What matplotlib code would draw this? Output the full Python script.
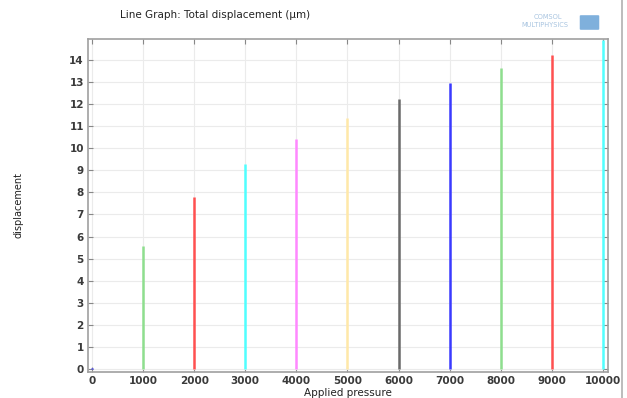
import numpy as np
import matplotlib.pyplot as plt
from matplotlib.patches import FancyBboxPatch
from matplotlib.lines import Line2D

# Applied pressure steps and the total displacement at each step (um)
pressure = [0, 1000, 2000, 3000, 4000, 5000, 6000, 7000, 8000, 9000, 10000]
displacement = [0.06, 5.59, 7.80, 9.29, 10.43, 11.37, 12.22, 12.94, 13.62, 14.24, 14.90]
line_colors = ['#3a3aff', '#8ede8e', '#ff5050', '#50ffff', '#ff88ff', '#ffe8a8',
               '#6a6a6a', '#3a3aff', '#8ede8e', '#ff5050', '#50ffff']

x_ticks = list(range(0, 10001, 1000))
y_ticks = list(range(0, 15))

fig = plt.figure(figsize=(6.27, 3.98), dpi=100)
ax = fig.add_axes([88 / 627, 1 - 372 / 398, (608 - 88) / 627, (372 - 39) / 398])

# one vertical line per load step, cycling colours like the solver's plot
for p, d, c in zip(pressure, displacement, line_colors):
    ax.vlines(p, 0, d, colors=c, linewidth=1.8, zorder=3)

ax.set_xlim(-78, 10098)
ax.set_ylim(-0.14, 14.95)
ax.set_xticks(x_ticks)
ax.set_yticks(y_ticks)
ax.grid(True, color='#ebebeb', linewidth=0.8, zorder=0)
ax.tick_params(direction='in', length=3.5, width=0.8, color='#888888',
               top=True, right=True, labelsize=7.5, labelcolor='#3a3a3a', pad=3)
for lab in ax.get_xticklabels() + ax.get_yticklabels():
    lab.set_fontweight('bold')
for s in ax.spines.values():
    s.set_color('#a0a0a0')
    s.set_linewidth(1.2)

ax.set_xlabel('Applied pressure', fontsize=7.5, labelpad=1, color='#222222')
fig.text(18 / 627, 1 - 205 / 398, 'displacement', rotation=90, fontsize=7,
         ha='center', va='center', color='#222222')

fig.text(120 / 627, 1 - 15 / 398, 'Line Graph: Total displacement (µm)',
         fontsize=7.5, ha='left', va='center', color='#222222', fontweight='medium')

# brand mark, top right
fig.text(548 / 627, 1 - 17 / 398, 'COMSOL', fontsize=4.8, ha='center', va='center',
         color='#a8c4e0')
fig.text(545 / 627, 1 - 25 / 398, 'MULTIPHYSICS', fontsize=4.8, ha='center', va='center',
         color='#a8c4e0')
fig.patches.append(FancyBboxPatch((581 / 627, 1 - 29 / 398), 17 / 627, 13 / 398,
                                  boxstyle='round,pad=0.002', transform=fig.transFigure,
                                  facecolor='#7fb0dc', edgecolor='none'))

# frame line along the right edge
fig.add_artist(Line2D([622 / 627, 622 / 627], [0, 1], transform=fig.transFigure,
                      color='#b0b0b0', linewidth=1.2))

fig.savefig('out.png', dpi=100)
